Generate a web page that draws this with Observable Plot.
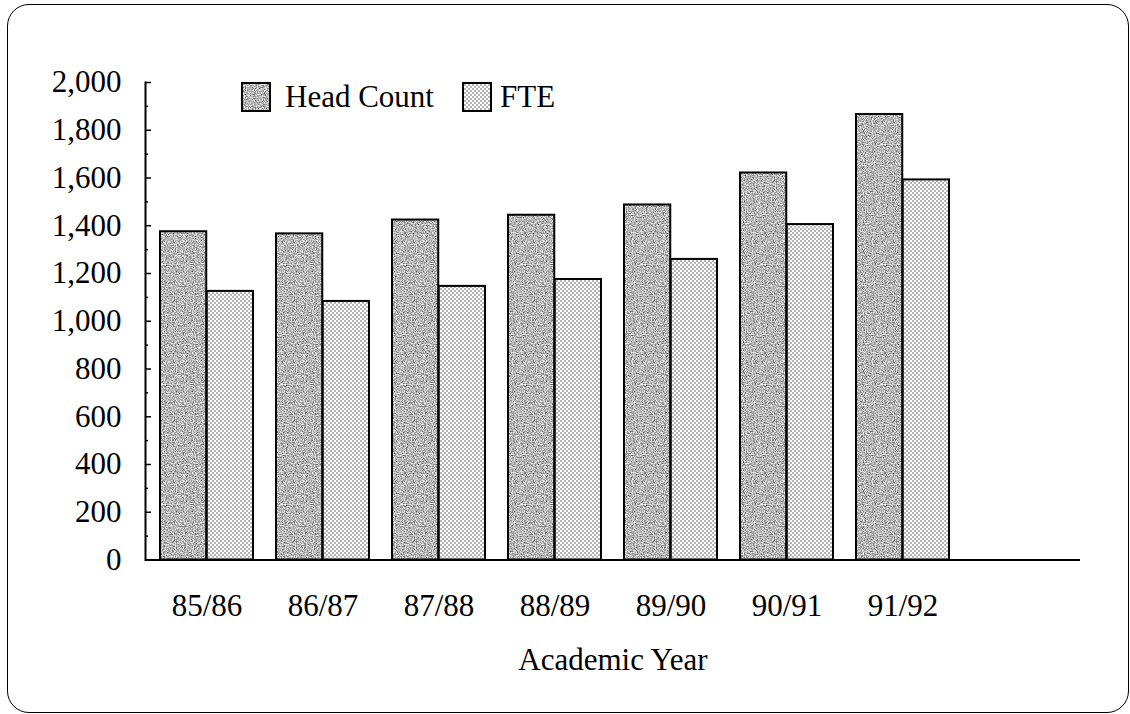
<!DOCTYPE html>
<html>
<head>
<meta charset="utf-8">
<script src="https://cdn.jsdelivr.net/npm/d3@7"></script>
<script src="https://cdn.jsdelivr.net/npm/@observablehq/plot@0.6"></script>
<style>
  html, body { margin: 0; padding: 0; background: #fff; }
  #wrap { position: relative; width: 1130px; height: 714px; overflow: hidden; font-family: "Liberation Serif", "Times New Roman", serif; }
  #wrap svg.plot { position: absolute; left: 0; top: 0; }
  #border { position: absolute; left: 7px; top: 4px; width: 1122px; height: 709px; border: 1.5px solid #000; border-radius: 22px; box-sizing: border-box; pointer-events: none; }
  #legend { position: absolute; left: 241px; top: 82px; display: flex; align-items: center; font-size: 31px; line-height: 30px; color: #000; }
  #legend .sw { width: 30px; height: 30px; display: block; }
  #legend .lab1 { margin-left: 14px; margin-right: 28px; }
  #legend .lab2 { margin-left: 8px; }
</style>
</head>
<body>
<div id="wrap">
  <div id="border"></div>
  <div id="legend">
    <svg class="sw" width="30" height="30"><rect x="1" y="1" width="28" height="28" fill="url(#hcPat)" stroke="#000" stroke-width="2"/></svg>
    <span class="lab1">Head Count</span>
    <svg class="sw" width="30" height="30"><rect x="1" y="1" width="28" height="28" fill="url(#ftePat)" stroke="#000" stroke-width="2"/></svg>
    <span class="lab2">FTE</span>
  </div>
</div>
<script>
// ---- data ----
const years = ["85/86", "86/87", "87/88", "88/89", "89/90", "90/91", "91/92"];
const headCount = [1375, 1366, 1424, 1444, 1487, 1621, 1866];
const fte = [1125, 1083, 1146, 1175, 1259, 1405, 1592];
const xDomain = [...years, ""];
const majorTicks = [0, 200, 400, 600, 800, 1000, 1200, 1400, 1600, 1800, 2000];
const minorTicks = [100, 300, 500, 700, 900, 1100, 1300, 1500, 1700, 1900];
const xTitle = "Academic Year";

const rows = years.map((year, i) => ({year, head: headCount[i], fte: fte[i]}));

const W = 1130, H = 714;
const mL = 145, mR = 50, mT = 82, mB = 154.5;
const frameW = W - mL - mR;
const halfBar = frameW / 8 * 0.8 / 2;
const font = "'Liberation Serif', 'Times New Roman', serif";

const chart = Plot.plot({
  width: W,
  height: H,
  marginLeft: mL,
  marginRight: mR,
  marginTop: mT,
  marginBottom: mB,
  style: {fontFamily: font, fontSize: "31px", background: "transparent", color: "#000", overflow: "visible"},
  x: {domain: xDomain, paddingInner: 0.2, paddingOuter: 0.1},
  y: {domain: [0, 2000], nice: false},
  marks: [
    Plot.barY(rows, {x: "year", y: "head", fill: "url(#hcPat)", stroke: "#000", strokeWidth: 2, insetRight: halfBar}),
    Plot.barY(rows, {x: "year", y: "fte", fill: "url(#ftePat)", stroke: "#000", strokeWidth: 2, insetLeft: halfBar}),
    Plot.tickY(majorTicks, {y: d => d, stroke: "#000", strokeWidth: 1.5, insetRight: frameW - 6}),
    Plot.tickY(minorTicks, {y: d => d, stroke: "#000", strokeWidth: 1.5, insetRight: frameW - 3}),
    Plot.frame({anchor: "left", stroke: "#000", strokeWidth: 2}),
    Plot.ruleY([0], {stroke: "#000", strokeWidth: 2}),
    Plot.axisY({ticks: majorTicks, tickSize: 0, tickPadding: 24, tickFormat: d3.format(","), label: null, fontSize: 31}),
    Plot.axisX({tickSize: 0, tickPadding: 34, label: null, fontSize: 31}),
    Plot.text([xTitle], {text: d => d, frameAnchor: "bottom", lineAnchor: "middle", dy: 100.5, fontSize: 31, fill: "#000"})
  ]
});
chart.classList.add("plot");

d3.select(chart).insert("defs", ":first-child").html(`
  <filter id="hcNoise" x="0" y="0" width="100%" height="100%" color-interpolation-filters="sRGB">
    <feTurbulence type="fractalNoise" baseFrequency="0.9" numOctaves="2" seed="7" stitchTiles="stitch"/>
    <feColorMatrix type="matrix" values="0.33 0.33 0.33 0 0  0.33 0.33 0.33 0 0  0.33 0.33 0.33 0 0  0 0 0 0 1"/>
    <feComponentTransfer>
      <feFuncR type="linear" slope="2.3" intercept="-0.42"/>
      <feFuncG type="linear" slope="2.3" intercept="-0.42"/>
      <feFuncB type="linear" slope="2.3" intercept="-0.42"/>
    </feComponentTransfer>
  </filter>
  <pattern id="hcPat" patternUnits="userSpaceOnUse" width="120" height="120">
    <rect width="120" height="120" fill="#aaa" filter="url(#hcNoise)"/>
  </pattern>
  <pattern id="ftePat" patternUnits="userSpaceOnUse" width="4" height="4">
    <rect width="4" height="4" fill="#fff"/>
    <circle cx="1" cy="1" r="0.75" fill="#444"/>
    <circle cx="3" cy="3" r="0.75" fill="#444"/>
  </pattern>
`);

document.getElementById("wrap").prepend(chart);
</script>
</body>
</html>
